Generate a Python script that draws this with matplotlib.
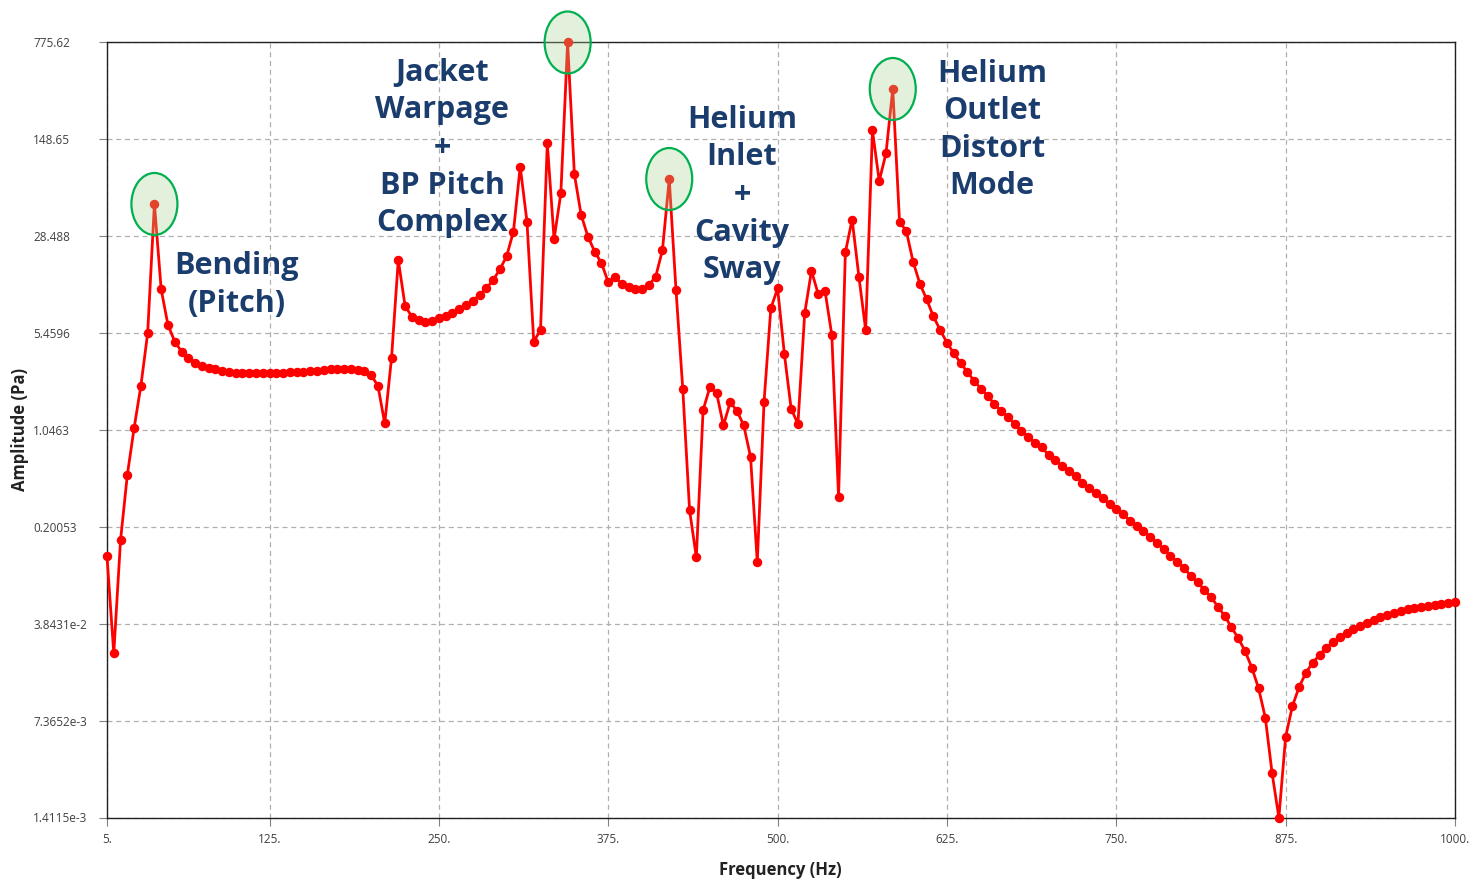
import numpy as np
import matplotlib.pyplot as plt
from matplotlib.patches import Ellipse
from matplotlib.ticker import NullLocator
from matplotlib.transforms import ScaledTranslation

plt.rcParams['font.family'] = ['Open Sans', 'DejaVu Sans']

# frequency sweep, 5 Hz steps
freq = np.arange(5, 1001, 5)

# amplitude (Pa), per band
amp_5_200 = [0.121, 0.0232, 0.160, 0.486, 1.08, 2.22, 5.44, 49.4, 11.5, 6.27,
             4.73, 3.99, 3.55, 3.30, 3.12, 3.03, 2.95, 2.88, 2.81, 2.78,
             2.75, 2.75, 2.75, 2.75, 2.75, 2.77, 2.78, 2.80, 2.81, 2.83,
             2.86, 2.88, 2.91, 2.95, 2.96, 2.98, 2.96, 2.93, 2.85, 2.67]
amp_205_420 = [2.22, 1.17, 3.55, 19.0, 8.71, 7.23, 6.83, 6.63, 6.75, 7.03,
               7.31, 7.74, 8.20, 8.78, 9.49, 10.5, 11.7, 13.5, 16.2, 20.3,
               30.8, 93.3, 36.5, 4.72, 5.76, 139.0, 27.1, 59.3, 775.62, 81.9,
               40.9, 28.3, 21.9, 18.0, 13.0, 14.2, 12.6, 11.9, 11.5, 11.6,
               12.4, 14.3, 22.5, 75.6]
amp_425_620 = [11.4, 2.11, 0.268, 0.119, 1.47, 2.17, 1.96, 1.13, 1.68, 1.45,
               1.13, 0.664, 0.110, 1.70, 8.34, 11.7, 3.82, 1.50, 1.16, 7.66,
               15.8, 10.6, 11.2, 5.29, 0.332, 21.6, 37.9, 14.3, 5.76, 173.0,
               73.1, 117.0, 351.0, 36.3, 31.2, 18.4, 12.7, 9.72, 7.25, 5.76]
amp_625_1000 = [4.64, 3.87, 3.30, 2.81, 2.43, 2.12, 1.87, 1.63, 1.45, 1.30,
                1.16, 1.03, 0.933, 0.843, 0.779, 0.683, 0.627, 0.566, 0.523, 0.478,
                0.426, 0.387, 0.355, 0.326, 0.295, 0.271, 0.249, 0.223, 0.204, 0.188,
                0.168, 0.153, 0.138, 0.122, 0.111, 0.0995, 0.0868, 0.0779, 0.0684, 0.0604,
                0.0514, 0.0439, 0.0362, 0.0300, 0.0242, 0.0182, 0.0128, 0.00774, 0.00300, 0.0014115,
                0.00560, 0.00945, 0.0131, 0.0167, 0.0198, 0.0226, 0.0256, 0.0280, 0.0305, 0.0327,
                0.0350, 0.0370, 0.0391, 0.0410, 0.0429, 0.0446, 0.0459, 0.0475, 0.0492, 0.0503,
                0.0514, 0.0523, 0.0532, 0.0538, 0.0545, 0.0557]
amp = np.array(amp_5_200 + amp_205_420 + amp_425_620 + amp_625_1000)

xticks = [5, 125, 250, 375, 500, 625, 750, 875, 1000]
yticks = [1.4115e-3, 7.3652e-3, 3.8431e-2, 0.20053, 1.0463, 5.4596, 28.488, 148.65, 775.62]
ytick_labels = ['1.4115e-3', '7.3652e-3', '3.8431e-2', '0.20053', '1.0463',
                '5.4596', '28.488', '148.65', '775.62']

# highlighted modes
peaks_hz = [40, 345, 420, 585]
notes = ['Bending\n(Pitch)',
         'Jacket\nWarpage\n+\nBP Pitch\nComplex',
         'Helium\nInlet\n+\nCavity\nSway',
         'Helium\nOutlet\nDistort\nMode']
note_xy = [(237, 285), (442, 148), (742, 195), (992, 130)]

W, H = 1469, 882
fig = plt.figure(figsize=(W / 100, H / 100), dpi=100)
ax = fig.add_axes([107 / W, 1 - 817.5 / H, (1455 - 107) / W, (817.5 - 42.5) / H])

ax.plot(freq, amp, color='#ff0000', lw=2, marker='o', ms=5.8, clip_on=False, zorder=3)
ax.set_yscale('log')
ax.set_xlim(5, 1000)
ax.set_ylim(1.4115e-3, 775.62)
ax.set_xticks(xticks)
ax.set_xticklabels([f'{t}.' for t in xticks])
ax.set_yticks(yticks)
ax.set_yticklabels(ytick_labels)
ax.yaxis.set_minor_locator(NullLocator())
ax.grid(True, ls=(0, (4, 3)), color='#b0b0b0', lw=0.9)
ax.set_axisbelow(True)
ax.tick_params(direction='out', length=6, color='#808080', labelsize=8.5, labelcolor='#404040')
ax.tick_params(axis='x', pad=5)
ax.tick_params(axis='y', pad=47)
for lab in ax.get_yticklabels():
    lab.set_ha('left')
for s in ax.spines.values():
    s.set_color('#202020')
    s.set_linewidth(1)

# green ellipses around the peaks
for f in peaks_hz:
    a = amp[freq == f][0]
    e = Ellipse((0, 0), 0.46, 0.62,
                transform=fig.dpi_scale_trans + ScaledTranslation(f, a, ax.transData),
                facecolor=(0.66, 0.82, 0.56, 0.32), edgecolor='#00b050', lw=1.6,
                clip_on=False, zorder=4)
    ax.add_patch(e)

for txt, (x, y) in zip(notes, note_xy):
    fig.text(x / W, 1 - y / H, txt, ha='center', va='center', multialignment='center',
             fontsize=22, fontweight='bold', color='#1b3d6d', linespacing=1.33)

fig.text(20 / W, 1 - 430 / H, 'Amplitude (Pa)', rotation=90, ha='center', va='center',
         fontsize=12, fontweight='bold', color='#222222')
fig.text(780 / W, 1 - 870 / H, 'Frequency (Hz)', ha='center', va='center',
         fontsize=12, fontweight='bold', color='#222222')

fig.savefig('out.png', dpi=100)
